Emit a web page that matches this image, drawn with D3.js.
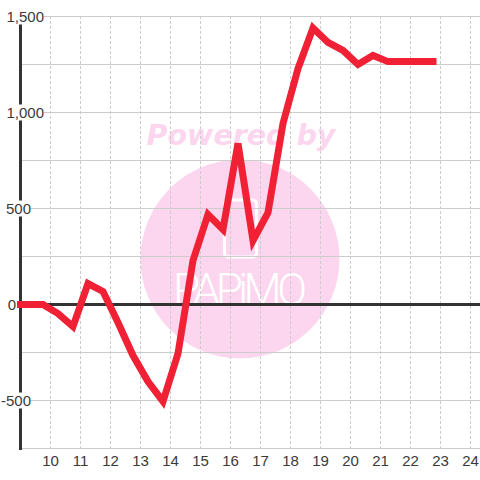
<!DOCTYPE html>
<html>
<head>
<meta charset="utf-8">
<style>
html, body { margin: 0; padding: 0; background: #fff; }
svg { display: block; }
</style>
<script src="https://d3js.org/d3.v7.min.js"></script>
</head>
<body>
<svg width="480" height="480"></svg>
<script>
var hours = [8.75, 9.25, 9.75, 10.25, 10.75, 11.25, 11.75, 12.25, 12.75, 13.25, 13.75, 14.25, 14.75, 15.25, 15.75, 16.25, 16.75, 17.25, 17.75, 18.25, 18.75, 19.25, 19.75, 20.25, 20.75, 21.25, 21.75, 22.25, 22.75];
var values = [0, 0, 0, -47, -115, 109, 68, -94, -266, -401, -505, -255, 229, 469, 391, 839, 333, 479, 943, 1229, 1440, 1365, 1323, 1250, 1297, 1265, 1265, 1265, 1265];
var yTicks = [1500, 1000, 500, 0, -500];
var yLabels = ['1,500', '1,000', '500', '0', '-500'];
var yGrid = [1500, 1250, 1000, 750, 500, 250, -250, -500, -750];
var xTicks = [10, 11, 12, 13, 14, 15, 16, 17, 18, 19, 20, 21, 22, 23, 24];

var svg = d3.select('svg');
var x = d3.scaleLinear().domain([9, 24]).range([20.5, 470.5]);
var y = d3.scaleLinear().domain([1500, -750]).range([16.5, 448.5]);

// watermark sits under everything
var mark = svg.append('g');
mark.append('circle').attr('cx', 240).attr('cy', 259).attr('r', 99.5).attr('fill', '#fcd6ee');
mark.append('text').text('Powered by')
  .attr('x', 241).attr('y', 145)
  .attr('text-anchor', 'middle')
  .attr('font-family', 'DejaVu Sans')
  .attr('font-weight', 'bold')
  .attr('font-style', 'italic')
  .attr('font-size', 28.5)
  .attr('fill', '#fcd6ee');
mark.append('rect')
  .attr('x', 224.5).attr('y', 200).attr('width', 32).attr('height', 57).attr('rx', 4)
  .attr('fill', 'none').attr('stroke', '#fff').attr('stroke-width', 3);
mark.append('text').text('PAPiMO')
  .attr('x', 173).attr('y', 305)
  .attr('textLength', 134)
  .attr('lengthAdjust', 'spacing')
  .attr('font-family', 'Roboto')
  .attr('font-weight', 300)
  .attr('font-size', 44)
  .attr('fill', '#fff');

// grid
svg.selectAll('.hgrid').data(yGrid).enter().append('line')
  .attr('x1', 20).attr('x2', 480)
  .attr('y1', function(d){ return y(d); })
  .attr('y2', function(d){ return y(d); })
  .attr('stroke', '#cccccc').attr('stroke-width', 1);
svg.selectAll('.vgrid').data(xTicks).enter().append('line')
  .attr('x1', function(d){ return x(d); })
  .attr('x2', function(d){ return x(d); })
  .attr('y1', 16).attr('y2', 448)
  .attr('stroke', '#cccccc').attr('stroke-width', 1)
  .attr('stroke-dasharray', '3,2');

// axis lines
svg.append('line').attr('x1', 20.5).attr('x2', 20.5).attr('y1', 16).attr('y2', 450)
  .attr('stroke', '#333333').attr('stroke-width', 3);
svg.append('line').attr('x1', 20).attr('x2', 480).attr('y1', y(0)).attr('y2', y(0))
  .attr('stroke', '#333333').attr('stroke-width', 3);

// x labels
svg.selectAll('.xlab').data(xTicks).enter().append('text')
  .text(function(d){ return d; })
  .attr('x', function(d){ return x(d); })
  .attr('y', 466)
  .attr('text-anchor', 'middle')
  .attr('font-family', 'Liberation Sans')
  .attr('font-size', 15)
  .attr('fill', '#3a3a3a');

// y labels have a white box that cuts the axis and the grid
var labelEnd = { '1,500': 44, '1,000': 44, '500': 31, '0': 16, '-500': 31 };
var ylab = svg.selectAll('.ylab').data(yTicks).enter().append('g')
  .attr('transform', function(d, i){ return 'translate(' + labelEnd[yLabels[i]] + ',' + y(d) + ')'; });
ylab.append('rect')
  .attr('x', function(d, i){ return -yLabels[i].length * 7.6 - 1; })
  .attr('y', -8)
  .attr('width', function(d, i){ return yLabels[i].length * 7.6 + 1; })
  .attr('height', 16)
  .attr('fill', '#fff');
ylab.append('text')
  .text(function(d, i){ return yLabels[i]; })
  .attr('x', 0)
  .attr('y', 5)
  .attr('text-anchor', 'end')
  .attr('font-family', 'Liberation Sans')
  .attr('font-size', 15)
  .attr('fill', '#3a3a3a');

// series, clipped just left of the axis
svg.append('clipPath').attr('id', 'plot').append('rect')
  .attr('x', 17).attr('y', 0).attr('width', 463).attr('height', 480);
var line = d3.line()
  .x(function(d, i){ return x(hours[i]); })
  .y(function(d){ return y(d); });
svg.append('path')
  .attr('d', line(values))
  .attr('clip-path', 'url(#plot)')
  .attr('fill', 'none')
  .attr('stroke', '#f02035')
  .attr('stroke-width', 7)
  .attr('stroke-linecap', 'square')
  .attr('stroke-linejoin', 'miter');
</script>
</body>
</html>
